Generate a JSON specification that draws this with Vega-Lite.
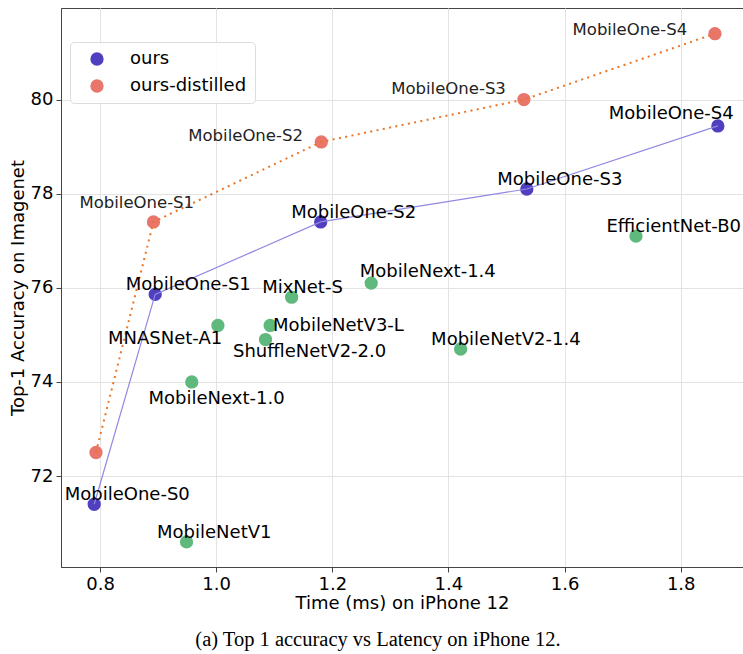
{
  "$schema": "https://vega.github.io/schema/vega-lite/v6.json",
  "width": 682,
  "height": 559,
  "autosize": {"type": "none"},
  "padding": {"left": 61, "top": 8, "right": 0, "bottom": 87},
  "background": "white",
  "config": {
    "font": "DejaVu Sans",
    "view": {"stroke": "#444", "strokeWidth": 1},
    "axis": {
      "labelFont": "DejaVu Sans", "labelFontSize": 18, "labelColor": "#000",
      "titleFont": "DejaVu Sans", "titleFontSize": 18, "titleFontWeight": "normal", "titleColor": "#000",
      "tickColor": "#444", "tickSize": 5, "domainColor": "#444",
      "gridColor": "#e3e3e3", "gridWidth": 1, "labelPadding": 3
    },
    "legend": {
      "orient": "none", "legendX": 9, "legendY": 34,
      "fillColor": "rgba(255,255,255,0.85)", "strokeColor": "#dcdcdc", "cornerRadius": 4,
      "padding": 8, "labelFont": "DejaVu Sans", "labelFontSize": 18, "labelColor": "#000",
      "symbolSize": 177, "symbolType": "circle", "symbolStrokeWidth": 0,
      "rowPadding": 9, "labelOffset": 24, "symbolOffset": 10
    }
  },
  "title": {
    "text": "(a) Top 1 accuracy vs Latency on iPhone 12.",
    "orient": "bottom", "anchor": "middle", "dx": -24, "offset": 18,
    "font": "Liberation Serif", "fontSize": 20.5, "fontWeight": "normal", "color": "#000"
  },
  "data": {
    "values": [
      {"model": "MobileOne-S0", "group": "ours", "latency": 0.79, "top1": 71.4},
      {"model": "MobileOne-S1", "group": "ours", "latency": 0.895, "top1": 75.86},
      {"model": "MobileOne-S2", "group": "ours", "latency": 1.18, "top1": 77.4},
      {"model": "MobileOne-S3", "group": "ours", "latency": 1.535, "top1": 78.1},
      {"model": "MobileOne-S4", "group": "ours", "latency": 1.864, "top1": 79.44},
      {"model": "MobileOne-S0", "group": "ours-distilled", "latency": 0.793, "top1": 72.5},
      {"model": "MobileOne-S1", "group": "ours-distilled", "latency": 0.892, "top1": 77.4},
      {"model": "MobileOne-S2", "group": "ours-distilled", "latency": 1.181, "top1": 79.1},
      {"model": "MobileOne-S3", "group": "ours-distilled", "latency": 1.53, "top1": 80.0},
      {"model": "MobileOne-S4", "group": "ours-distilled", "latency": 1.859, "top1": 81.4},
      {"model": "MobileNetV1", "group": "other", "latency": 0.949, "top1": 70.6},
      {"model": "MobileNext-1.0", "group": "other", "latency": 0.958, "top1": 74.0},
      {"model": "MNASNet-A1", "group": "other", "latency": 1.003, "top1": 75.2},
      {"model": "ShuffleNetV2-2.0", "group": "other", "latency": 1.085, "top1": 74.9},
      {"model": "MobileNetV3-L", "group": "other", "latency": 1.093, "top1": 75.2},
      {"model": "MixNet-S", "group": "other", "latency": 1.13, "top1": 75.8},
      {"model": "MobileNext-1.4", "group": "other", "latency": 1.267, "top1": 76.1},
      {"model": "MobileNetV2-1.4", "group": "other", "latency": 1.421, "top1": 74.7},
      {"model": "EfficientNet-B0", "group": "other", "latency": 1.723, "top1": 77.1}
    ]
  },
  "encoding": {
    "x": {
      "field": "latency", "type": "quantitative",
      "scale": {"domain": [0.7328, 1.9073], "nice": false, "zero": false},
      "axis": {"title": "Time (ms) on iPhone 12", "values": [0.8, 1.0, 1.2, 1.4, 1.6, 1.8], "format": ".1f", "titlePadding": 1}
    },
    "y": {
      "field": "top1", "type": "quantitative",
      "scale": {"domain": [70.067, 81.946], "nice": false, "zero": false},
      "axis": {"title": "Top-1 Accuracy on Imagenet", "values": [72, 74, 76, 78, 80], "format": "d", "titlePadding": 3}
    }
  },
  "layer": [
    {
      "mark": {"type": "circle", "size": 177, "opacity": 1},
      "encoding": {
        "color": {
          "field": "group", "type": "nominal",
          "scale": {"domain": ["ours", "ours-distilled", "other"], "range": ["#5040c0", "#e8766a", "#5fb97d"]},
          "legend": {"title": null, "values": ["ours", "ours-distilled"]}
        }
      }
    },
    {
      "transform": [{"filter": "datum.group == 'ours'"}],
      "mark": {"type": "line", "color": "#9189e2", "strokeWidth": 1.2},
      "encoding": {"order": {"field": "latency", "type": "quantitative"}}
    },
    {
      "transform": [{"filter": "datum.group == 'ours-distilled'"}],
      "mark": {"type": "line", "color": "#ec7424", "strokeWidth": 2, "strokeDash": [2, 4.4]},
      "encoding": {"order": {"field": "latency", "type": "quantitative"}}
    },
    {
      "transform": [{"filter": "(datum.group == 'ours' && datum.model != 'MobileOne-S4') || indexof(['MobileNetV1','MixNet-S','MobileNetV2-1.4','EfficientNet-B0'], datum.model) >= 0"}],
      "mark": {"type": "text", "align": "left", "baseline": "alphabetic", "dx": -29.5, "dy": -4, "fontSize": 18, "color": "#000"},
      "encoding": {"text": {"field": "model"}}
    },
    {
      "transform": [{"filter": "datum.group == 'ours' && datum.model == 'MobileOne-S4'"}],
      "mark": {"type": "text", "align": "left", "baseline": "alphabetic", "dx": -109.2, "dy": -7.4, "fontSize": 18, "color": "#000"},
      "encoding": {"text": {"field": "model"}}
    },
    {
      "transform": [{"filter": "datum.model == 'MobileNetV3-L'"}],
      "mark": {"type": "text", "align": "left", "baseline": "alphabetic", "dx": 2.8, "dy": 5.7, "fontSize": 18, "color": "#000"},
      "encoding": {"text": {"field": "model"}}
    },
    {
      "transform": [{"filter": "datum.model == 'ShuffleNetV2-2.0'"}],
      "mark": {"type": "text", "align": "left", "baseline": "alphabetic", "dx": -32.5, "dy": 17.4, "fontSize": 18, "color": "#000"},
      "encoding": {"text": {"field": "model"}}
    },
    {
      "transform": [{"filter": "datum.model == 'MNASNet-A1'"}],
      "mark": {"type": "text", "align": "left", "baseline": "alphabetic", "dx": -109.9, "dy": 18.3, "fontSize": 18, "color": "#000"},
      "encoding": {"text": {"field": "model"}}
    },
    {
      "transform": [{"filter": "datum.model == 'MobileNext-1.0'"}],
      "mark": {"type": "text", "align": "left", "baseline": "alphabetic", "dx": -43.2, "dy": 22, "fontSize": 18, "color": "#000"},
      "encoding": {"text": {"field": "model"}}
    },
    {
      "transform": [{"filter": "datum.model == 'MobileNext-1.4'"}],
      "mark": {"type": "text", "align": "left", "baseline": "alphabetic", "dx": -11.5, "dy": -6, "fontSize": 18, "color": "#000"},
      "encoding": {"text": {"field": "model"}}
    },
    {
      "transform": [{"filter": "datum.group == 'ours-distilled' && datum.model == 'MobileOne-S1'"}],
      "mark": {"type": "text", "align": "left", "baseline": "alphabetic", "dx": -74, "dy": -14, "fontSize": 16.5, "color": "#222"},
      "encoding": {"text": {"field": "model"}}
    },
    {
      "transform": [{"filter": "datum.group == 'ours-distilled' && datum.model == 'MobileOne-S2'"}],
      "mark": {"type": "text", "align": "left", "baseline": "alphabetic", "dx": -133, "dy": -1, "fontSize": 16.5, "color": "#222"},
      "encoding": {"text": {"field": "model"}}
    },
    {
      "transform": [{"filter": "datum.group == 'ours-distilled' && datum.model == 'MobileOne-S3'"}],
      "mark": {"type": "text", "align": "left", "baseline": "alphabetic", "dx": -132.7, "dy": -5.6, "fontSize": 16.5, "color": "#222"},
      "encoding": {"text": {"field": "model"}}
    },
    {
      "transform": [{"filter": "datum.group == 'ours-distilled' && datum.model == 'MobileOne-S4'"}],
      "mark": {"type": "text", "align": "left", "baseline": "alphabetic", "dx": -142.4, "dy": 1, "fontSize": 16.5, "color": "#222"},
      "encoding": {"text": {"field": "model"}}
    }
  ]
}
